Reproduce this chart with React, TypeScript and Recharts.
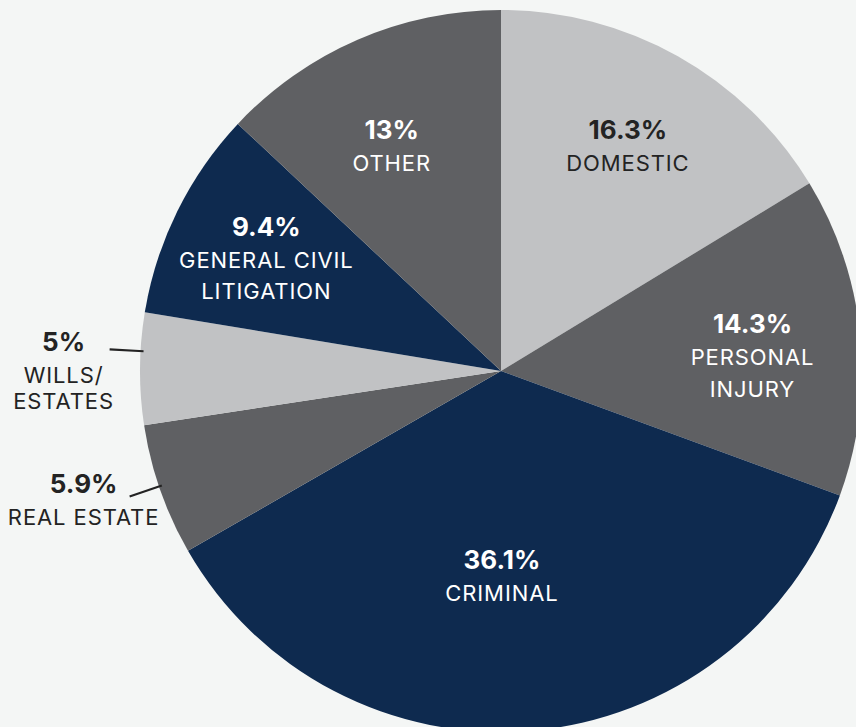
import { PieChart, Pie, Cell } from "recharts";

const categories = ["DOMESTIC", "PERSONAL INJURY", "CRIMINAL", "REAL ESTATE", "WILLS/ ESTATES", "GENERAL CIVIL LITIGATION", "OTHER"];
const shares = [16.3, 14.3, 36.1, 5.9, 5, 9.4, 13];
const pctLabels = ["16.3%", "14.3%", "36.1%", "5.9%", "5%", "9.4%", "13%"];
const nameLines = [
  ["DOMESTIC"],
  ["PERSONAL", "INJURY"],
  ["CRIMINAL"],
  ["REAL ESTATE"],
  ["WILLS/", "ESTATES"],
  ["GENERAL CIVIL", "LITIGATION"],
  ["OTHER"],
];

const NAVY = "#0e2a4f";
const DARK = "#5f6063";
const LIGHT = "#c1c2c4";
const BG = "#f4f6f5";

const sliceColors = [LIGHT, DARK, NAVY, DARK, LIGHT, NAVY, DARK];
const textColors = ["#232323", "#ffffff", "#ffffff", "#232323", "#232323", "#ffffff", "#ffffff"];

// label placement: radius from center and angle nudge (deg); outside ones get a leader line
const placement = [
  { r: 259, shift: 0, outside: false, gap: 32, dy: 0 },
  { r: 252, shift: -2, outside: false, gap: 32, dy: 0 },
  { r: 204, shift: -4.6, outside: false, gap: 32, dy: 0 },
  { r: 0, shift: -0.6, outside: true, gap: 32, dy: -3 },
  { r: 0, shift: -2.8, outside: true, gap: 26, dy: 2 },
  { r: 261, shift: 0.3, outside: false, gap: 31, dy: 0 },
  { r: 251, shift: 2.4, outside: false, gap: 32, dy: 0 },
];

const data = categories.map((name, i) => ({ name, value: shares[i] }));

const FONT = "Inter, 'Noto Sans', sans-serif";
const RAD = Math.PI / 180;

function polar(cx: number, cy: number, r: number, deg: number) {
  return { x: cx + r * Math.cos(-deg * RAD), y: cy + r * Math.sin(-deg * RAD) };
}

function renderLabel(props: any) {
  const { cx, cy, midAngle, outerRadius, index } = props;
  const p = placement[index];
  const fill = p.outside ? "#232323" : textColors[index];
  const lines = nameLines[index];
  const ang = midAngle + p.shift;

  if (p.outside) {
    const a = polar(cx, cy, outerRadius - 3, ang);
    const b = polar(cx, cy, outerRadius + 31, ang);
    const tx = b.x - 46;
    const base = b.y + p.dy;
    return (
      <g>
        <line x1={a.x} y1={a.y} x2={b.x} y2={b.y} stroke="#232323" strokeWidth={2.2} />
        <text x={tx} y={base} textAnchor="middle" fill={fill} fontFamily={FONT} fontWeight={700} fontSize={26}>
          {pctLabels[index]}
        </text>
        {lines.map((ln, k) => (
          <text key={k} x={tx} y={base + 32 + k * p.gap} textAnchor="middle" fill={fill} fontFamily={FONT} fontSize={22} letterSpacing={0.9}>
            {ln}
          </text>
        ))}
      </g>
    );
  }

  const c = polar(cx, cy, p.r, ang);
  const blockH = 20 + p.gap * lines.length;
  const base = c.y - blockH / 2 + 20;
  return (
    <g>
      <text x={c.x} y={base} textAnchor="middle" fill={fill} fontFamily={FONT} fontWeight={700} fontSize={26}>
        {pctLabels[index]}
      </text>
      {lines.map((ln, k) => (
        <text key={k} x={c.x} y={base + 32 + k * p.gap} textAnchor="middle" fill={fill} fontFamily={FONT} fontSize={22} letterSpacing={0.9}>
          {ln}
        </text>
      ))}
    </g>
  );
}

export default function App() {
  return (
    <div style={{ position: "fixed", left: 0, top: 0, width: 856, height: 727, background: BG, overflow: "hidden" }}>
      <PieChart width={856} height={727} margin={{ top: 0, right: 0, bottom: 0, left: 0 }}>
        <Pie
          data={data}
          dataKey="value"
          nameKey="name"
          cx={501}
          cy={371}
          outerRadius={361}
          startAngle={90}
          endAngle={-270}
          stroke="none"
          label={renderLabel}
          labelLine={false}
          isAnimationActive={false}
        >
          {data.map((_, i) => (
            <Cell key={i} fill={sliceColors[i]} />
          ))}
        </Pie>
      </PieChart>
    </div>
  );
}
